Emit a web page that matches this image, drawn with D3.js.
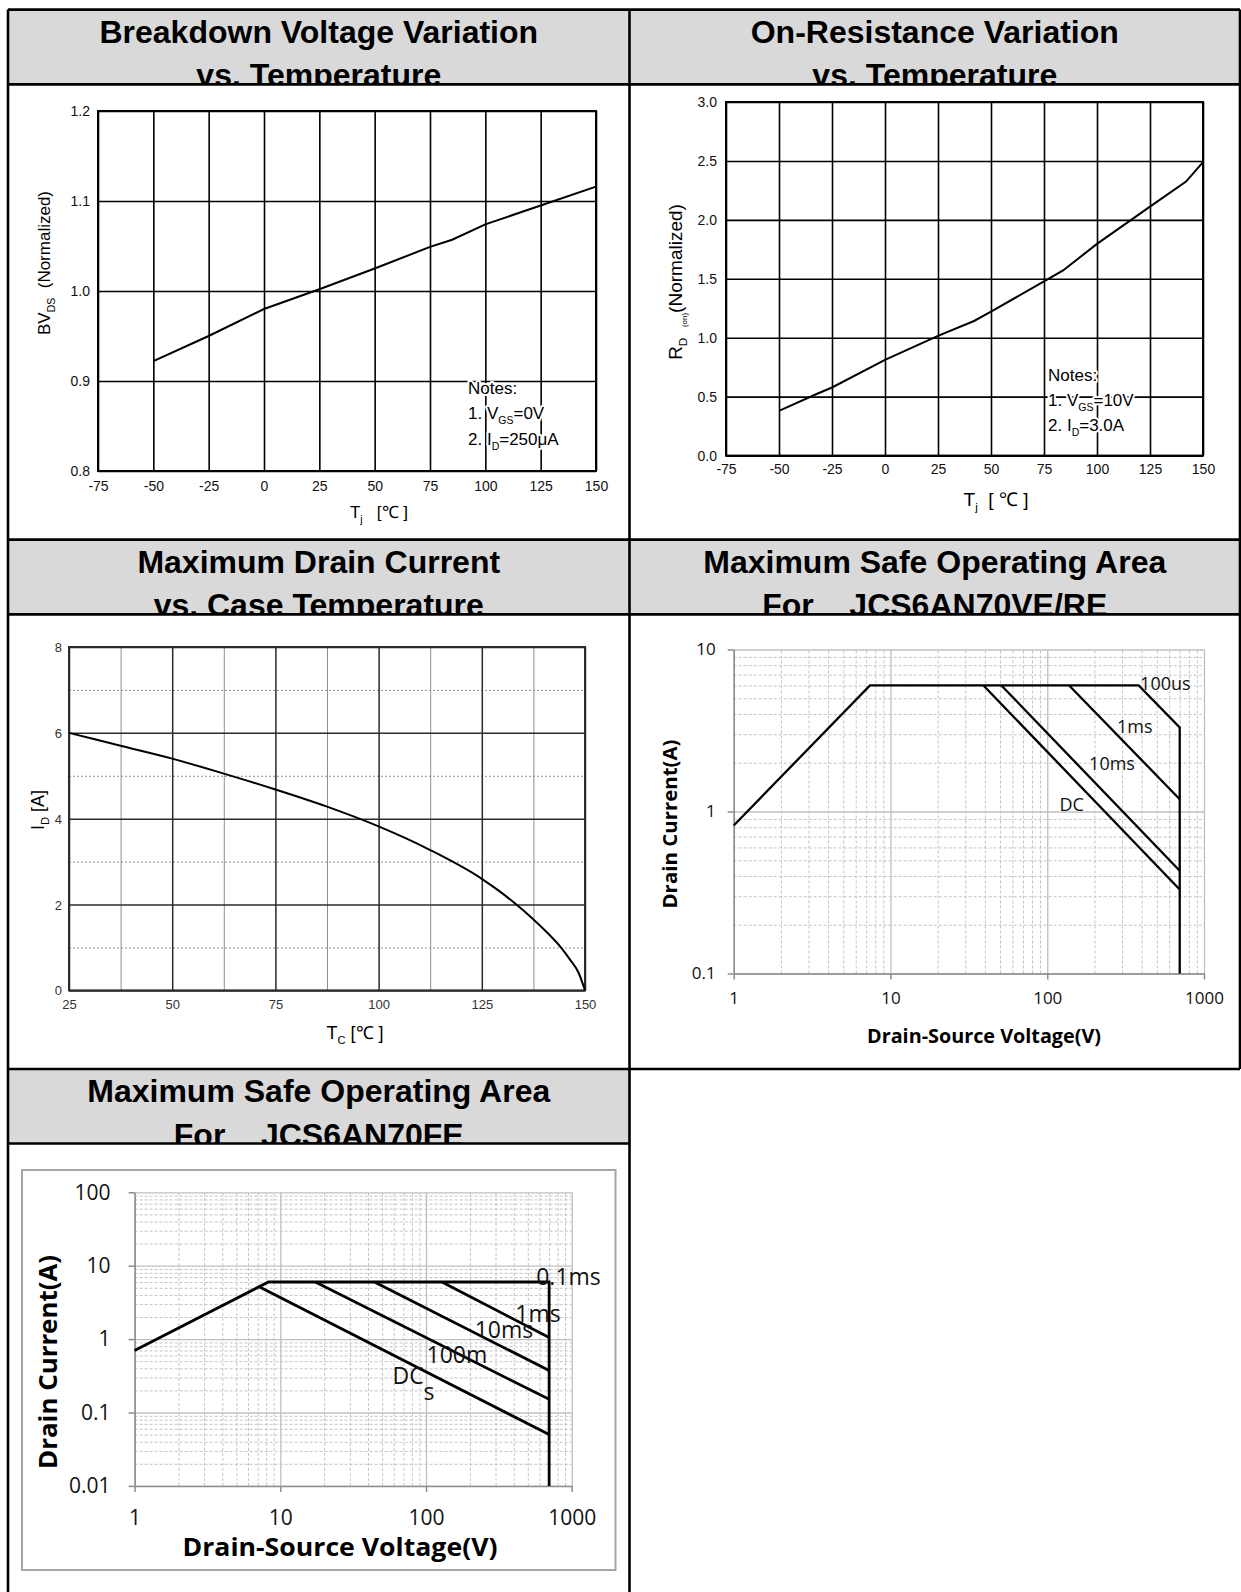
<!DOCTYPE html>
<html>
<head>
<meta charset="utf-8">
<script src="https://cdn.jsdelivr.net/npm/d3@7/dist/d3.min.js"></script>
<style>
  body { margin: 0; background: #fff; }
  svg { display: block; }
</style>
</head>
<body>
<svg id="sheet" width="1241" height="1592"></svg>
<script>
// ---- chart data ----
var tempTicks = [-75, -50, -25, 0, 25, 50, 75, 100, 125, 150];

var bvTemp = [-50, -25, 0, 25, 50, 75, 85, 100, 125, 150];
var bvNorm = [0.922, 0.950, 0.980, 1.002, 1.025, 1.049, 1.057, 1.074, 1.095, 1.116];
var bvTicks = [0.8, 0.9, 1.0, 1.1, 1.2];

var rdsTemp = [-50, -32, -25, 0, 25, 42, 50, 75, 84, 100, 125, 142, 150];
var rdsNorm = [0.38, 0.525, 0.578, 0.812, 1.016, 1.142, 1.221, 1.478, 1.571, 1.796, 2.112, 2.325, 2.49];
var rdsTicks = [0, 0.5, 1.0, 1.5, 2.0, 2.5, 3.0];

var caseTemp = [25, 37.5, 50, 62.5, 75, 87.5, 100, 112.5, 125, 129, 133, 137, 141, 144, 146.5, 148.5, 150];
var idMax = [6.0, 5.70, 5.40, 5.05, 4.68, 4.28, 3.82, 3.27, 2.60, 2.33, 2.03, 1.70, 1.33, 1.02, 0.70, 0.40, 0];
var caseTicks = [25, 50, 75, 100, 125, 150];
var caseMinor = [37.5, 62.5, 87.5, 112.5, 137.5];
var idTicks = [0, 2, 4, 6, 8];
var idMinor = [1, 3, 5, 7];

var vdsTicks = [1, 10, 100, 1000];

// SOA for JCS6AN70VE/RE
var veTicks = [0.1, 1, 10];
var veLimitV = [1, 7.4, 383, 700, 700];
var veLimitA = [0.82, 6, 6, 3.3, 0.1];
var ve1msV = [138, 700], ve1msA = [6, 1.19];
var ve10msV = [51, 700], ve10msA = [6, 0.431];
var veDcV = [39.2, 700], veDcA = [6, 0.33];
var veLabels = ['100us', '1ms', '10ms', 'DC'];
var veLabelV = [567, 362, 259, 143];
var veLabelA = [6.12, 3.33, 1.96, 1.10];

// SOA for JCS6AN70FE
var feTicks = [0.01, 0.1, 1, 10, 100];
var feLimitV = [1, 8.3, 700, 700];
var feLimitA = [0.7, 6, 6, 0.01];
var fe1msV = [128.6, 700], fe1msA = [6, 1.05];
var fe10msV = [44.3, 700], fe10msA = [6, 0.373];
var fe100msV = [17.4, 700], fe100msA = [6, 0.151];
var feDcV = [7.16, 700], feDcA = [5.18, 0.05];
var feLabels = ['0.1ms', '1ms', '10ms', '100m', 's', 'DC'];
var feLabelV = [951, 587, 343, 163, 105, 75.4];
var feLabelA = [7.02, 2.21, 1.34, 0.607, 0.188, 0.318];

var titles = [
  ['Breakdown Voltage Variation', 'vs. Temperature'],
  ['On-Resistance Variation', 'vs. Temperature'],
  ['Maximum Drain Current', 'vs. Case Temperature'],
  ['Maximum Safe Operating Area', 'For    JCS6AN70VE/RE'],
  ['Maximum Safe Operating Area', 'For    JCS6AN70FE']
];

// ---- page ----
var svg = d3.select('#sheet');
var SANS = '"Liberation Sans", Arial, sans-serif';
var CAL = '"Open Sans", "Noto Sans", sans-serif';

var cols = [8, 629.5, 1240];
var rowsY = [9.6, 84.4, 539.6, 614.4, 1069, 1143.5];
var plain = function(d) { return String(d); };

// header cells
var defs = svg.append('defs');
titles.forEach(function(lines, i) {
  var c = i % 2, r = Math.floor(i / 2);
  var x0 = cols[c], x1 = cols[c + 1];
  var top = rowsY[2 * r], bot = rowsY[2 * r + 1];
  svg.append('rect').attr('x', x0).attr('y', top)
    .attr('width', x1 - x0).attr('height', bot - top).attr('fill', '#d9d9d9');
  defs.append('clipPath').attr('id', 'hc' + i)
    .append('rect').attr('x', x0).attr('y', top).attr('width', x1 - x0).attr('height', bot - top);
  var tg = svg.append('g').attr('clip-path', 'url(#hc' + i + ')');
  lines.forEach(function(s, k) {
    tg.append('text')
      .attr('x', (x0 + x1) / 2).attr('y', top + (k === 0 ? 33.4 : 76.6))
      .attr('text-anchor', 'middle')
      .attr('font-family', SANS).attr('font-weight', 'bold').attr('font-size', 32)
      .style('white-space', 'pre')
      .text(s);
  });
});

function styleAxis(sel, size, color, family) {
  sel.attr('font-family', family).attr('font-size', size);
  sel.select('.domain').remove();
  sel.selectAll('text').attr('fill', color);
}

function richText(parent, x, y, parts, size, opts) {
  opts = opts || {};
  var t = parent.append('text').attr('x', x).attr('y', y)
    .attr('font-family', opts.family || SANS).attr('font-size', size)
    .attr('text-anchor', opts.anchor || 'middle')
    .style('white-space', 'pre');
  if (opts.rotate) t.attr('transform', 'rotate(-90,' + x + ',' + y + ')');
  if (opts.halo) {
    t.attr('stroke', '#fff').attr('stroke-width', 4).attr('paint-order', 'stroke')
      .attr('stroke-linejoin', 'round');
  }
  var shift = 0;
  parts.forEach(function(p) {
    var target = p.sub ? size * 0.28 : 0;
    t.append('tspan').attr('dy', target - shift)
      .attr('font-size', p.sub ? size * (p.scale || 0.62) : size)
      .text(p.t);
    shift = target;
  });
  return t;
}

function linearPanel(o) {
  var x = d3.scaleLinear().domain(o.xDomain).range([o.l, o.r]);
  var y = d3.scaleLinear().domain(o.yDomain).range([o.b, o.t]);
  var w = o.r - o.l, h = o.b - o.t;
  var g = svg.append('g');

  if (o.xMinor) {
    g.append('g').attr('transform', 'translate(0,' + o.b + ')')
      .call(d3.axisBottom(x).tickValues(o.xMinor).tickSize(-h).tickFormat(''))
      .call(function(a) { a.select('.domain').remove(); })
      .selectAll('line').attr('stroke', '#8f8f8f').attr('stroke-width', 1);
  }
  if (o.yMinor) {
    g.append('g').attr('transform', 'translate(' + o.l + ',0)')
      .call(d3.axisLeft(y).tickValues(o.yMinor).tickSize(-w).tickFormat(''))
      .call(function(a) { a.select('.domain').remove(); })
      .selectAll('line').attr('stroke', '#8f8f8f').attr('stroke-width', 1)
      .attr('stroke-dasharray', '2,2');
  }
  g.append('g').attr('transform', 'translate(0,' + o.b + ')')
    .call(d3.axisBottom(x).tickValues(o.xTicks).tickSize(-h).tickFormat(''))
    .call(function(a) { a.select('.domain').remove(); })
    .selectAll('line').attr('stroke', o.grid).attr('stroke-width', o.gridW);
  g.append('g').attr('transform', 'translate(' + o.l + ',0)')
    .call(d3.axisLeft(y).tickValues(o.yTicks).tickSize(-w).tickFormat(''))
    .call(function(a) { a.select('.domain').remove(); })
    .selectAll('line').attr('stroke', o.grid).attr('stroke-width', o.gridW);
  g.append('rect').attr('x', o.l).attr('y', o.t).attr('width', w).attr('height', h)
    .attr('fill', 'none').attr('stroke', o.grid).attr('stroke-width', 2);

  var xl = g.append('g').attr('transform', 'translate(0,' + o.xLabelY + ')')
    .call(d3.axisBottom(x).tickValues(o.xTicks).tickSize(0).tickPadding(0).tickFormat(o.xFmt));
  styleAxis(xl, o.tick, o.tickColor, SANS);
  xl.selectAll('text').attr('y', 0).attr('dy', '0.35em');

  var yl = g.append('g').attr('transform', 'translate(' + o.yLabelX + ',0)')
    .call(d3.axisLeft(y).tickValues(o.yTicks).tickSize(0).tickPadding(0).tickFormat(o.yFmt));
  styleAxis(yl, o.tick, o.tickColor, SANS);
  yl.selectAll('text').attr('x', 0).attr('dy', '0.35em');

  g.append('path').datum(d3.zip(o.xs, o.ys))
    .attr('d', d3.line().x(function(d) { return x(d[0]); }).y(function(d) { return y(d[1]); })
      .curve(o.curve || d3.curveLinear))
    .attr('fill', 'none').attr('stroke', '#000').attr('stroke-width', 2);
  return g;
}

// ---- Breakdown voltage ----
var g1 = linearPanel({
  l: 98, r: 596, t: 111, b: 471,
  xDomain: [-75, 150], yDomain: [0.8, 1.2],
  xTicks: tempTicks, yTicks: bvTicks,
  xFmt: plain, yFmt: d3.format('.1f'),
  grid: '#000', gridW: 1.6,
  xLabelY: 486, yLabelX: 90, tick: 14, tickColor: '#111',
  xs: bvTemp, ys: bvNorm
});
richText(g1, 50, 263, [{t: 'BV'}, {t: 'DS', sub: true}, {t: '  (Normalized)'}], 17, {rotate: true});
richText(g1, 379, 518, [{t: 'T'}, {t: 'j', sub: true}, {t: '   [\u2103 ]'}], 17);
richText(g1, 468, 394, [{t: 'Notes: '}], 17, {anchor: 'start', halo: true});
richText(g1, 468, 419, [{t: '1. V'}, {t: 'GS', sub: true}, {t: '=0V'}], 17, {anchor: 'start', halo: true});
richText(g1, 468, 445, [{t: '2. I'}, {t: 'D', sub: true}, {t: '=250\u03bcA'}], 17, {anchor: 'start', halo: true});

// ---- On-resistance ----
var g2 = linearPanel({
  l: 726, r: 1203, t: 102, b: 455.6,
  xDomain: [-75, 150], yDomain: [0, 3],
  xTicks: tempTicks, yTicks: rdsTicks,
  xFmt: plain, yFmt: d3.format('.1f'),
  grid: '#000', gridW: 1.6,
  xLabelY: 469, yLabelX: 717, tick: 14, tickColor: '#111',
  xs: rdsTemp, ys: rdsNorm
});
richText(g2, 682, 282, [{t: 'R'}, {t: 'D', sub: true}, {t: '  '}, {t: '(on)', sub: true, scale: 0.42}, {t: '(Normalized)'}], 19, {rotate: true});
richText(g2, 996, 506, [{t: 'T'}, {t: 'j', sub: true}, {t: '  [ \u2103 ]'}], 19);
richText(g2, 1048, 381, [{t: 'Notes:'}], 17, {anchor: 'start', halo: true});
richText(g2, 1048, 406, [{t: '1. V'}, {t: 'GS', sub: true}, {t: '=10V'}], 17, {anchor: 'start', halo: true});
richText(g2, 1048, 431, [{t: '2. I'}, {t: 'D', sub: true}, {t: '=3.0A'}], 17, {anchor: 'start', halo: true});

// ---- Drain current vs case temperature ----
var g3 = linearPanel({
  l: 69, r: 585, t: 647, b: 990.4,
  xDomain: [25, 150], yDomain: [0, 8],
  xTicks: caseTicks, yTicks: idTicks, xMinor: caseMinor, yMinor: idMinor,
  xFmt: plain, yFmt: plain,
  grid: '#2b2b2b', gridW: 1.5,
  xLabelY: 1004.5, yLabelX: 62, tick: 13, tickColor: '#333',
  xs: caseTemp, ys: idMax, curve: d3.curveMonotoneX
});
richText(g3, 44, 810, [{t: 'I'}, {t: 'D', sub: true}, {t: ' [A]'}], 18, {rotate: true});
richText(g3, 355, 1039, [{t: 'T'}, {t: 'C', sub: true}, {t: ' [\u2103 ]'}], 18);

// ---- SOA panels ----
function soaPanel(o) {
  var x = d3.scaleLog().domain([vdsTicks[0], vdsTicks[vdsTicks.length - 1]]).range([o.l, o.r]);
  var y = d3.scaleLog().domain([o.yTicks[0], o.yTicks[o.yTicks.length - 1]]).range([o.b, o.t]);
  var w = o.r - o.l, h = o.b - o.t;
  var g = svg.append('g');
  var isMajor = function(v) { return Math.abs(Math.log10(v) - Math.round(Math.log10(v))) < 1e-6; };
  var xMinor = x.ticks().filter(function(v) { return !isMajor(v); });
  var yMinor = y.ticks().filter(function(v) { return !isMajor(v); });

  g.append('g').attr('transform', 'translate(0,' + o.b + ')')
    .call(d3.axisBottom(x).tickValues(xMinor).tickSize(-h).tickFormat(''))
    .call(function(a) { a.select('.domain').remove(); })
    .selectAll('line').attr('stroke', '#c4c4c4').attr('stroke-dasharray', '3,2');
  g.append('g').attr('transform', 'translate(' + o.l + ',0)')
    .call(d3.axisLeft(y).tickValues(yMinor).tickSize(-w).tickFormat(''))
    .call(function(a) { a.select('.domain').remove(); })
    .selectAll('line').attr('stroke', '#c4c4c4').attr('stroke-dasharray', '3,2');
  g.append('g').attr('transform', 'translate(0,' + o.b + ')')
    .call(d3.axisBottom(x).tickValues(vdsTicks).tickSize(-h).tickFormat(''))
    .call(function(a) { a.select('.domain').remove(); })
    .selectAll('line').attr('stroke', '#c0c0c0').attr('stroke-width', 1.3);
  g.append('g').attr('transform', 'translate(' + o.l + ',0)')
    .call(d3.axisLeft(y).tickValues(o.yTicks).tickSize(-w).tickFormat(''))
    .call(function(a) { a.select('.domain').remove(); })
    .selectAll('line').attr('stroke', '#c0c0c0').attr('stroke-width', 1.3);

  // axis lines with outward ticks
  var xa = g.append('g').attr('transform', 'translate(0,' + o.b + ')')
    .call(d3.axisBottom(x).tickValues(vdsTicks).tickSizeInner(6).tickSizeOuter(0)
      .tickPadding(o.xPad).tickFormat(d3.format('~g')));
  xa.attr('font-family', CAL).attr('font-size', o.tick);
  xa.selectAll('line, .domain').attr('stroke', '#8c8c8c').attr('stroke-width', 1.5);
  xa.selectAll('text').attr('fill', '#111');
  var ya = g.append('g').attr('transform', 'translate(' + o.l + ',0)')
    .call(d3.axisLeft(y).tickValues(o.yTicks).tickSizeInner(6).tickSizeOuter(0)
      .tickPadding(o.yPad).tickFormat(d3.format('~g')));
  ya.attr('font-family', CAL).attr('font-size', o.tick);
  ya.selectAll('line, .domain').attr('stroke', '#8c8c8c').attr('stroke-width', 1.5);
  ya.selectAll('text').attr('fill', '#111');

  var line = d3.line().x(function(d) { return x(d[0]); }).y(function(d) { return y(d[1]); });
  o.series.forEach(function(s) {
    g.append('path').datum(d3.zip(s[0], s[1])).attr('d', line)
      .attr('fill', 'none').attr('stroke', '#000').attr('stroke-width', o.lineW)
      .attr('stroke-linejoin', 'miter');
  });
  o.labels.forEach(function(t, i) {
    g.append('text').attr('x', x(o.labelV[i])).attr('y', y(o.labelA[i]))
      .attr('dy', '0.35em').attr('text-anchor', 'middle')
      .attr('font-family', CAL).attr('font-size', o.labelSize).attr('fill', '#111')
      .text(t);
  });
  return g;
}

var g4 = soaPanel({
  l: 733.7, r: 1204, t: 649.5, b: 973.5,
  yTicks: veTicks, tick: 17, xPad: 12, yPad: 12, lineW: 2.3,
  series: [[veLimitV, veLimitA], [ve1msV, ve1msA], [ve10msV, ve10msA], [veDcV, veDcA]],
  labels: veLabels, labelV: veLabelV, labelA: veLabelA, labelSize: 18
});
g4.append('text').attr('x', 0).attr('y', 0)
  .attr('transform', 'translate(677,824) rotate(-90)')
  .attr('text-anchor', 'middle').attr('font-family', CAL).attr('font-weight', 'bold')
  .attr('font-size', 19).attr('textLength', 169).attr('lengthAdjust', 'spacingAndGlyphs')
  .text('Drain Current(A)');
g4.append('text').attr('x', 984).attr('y', 1043)
  .attr('text-anchor', 'middle').attr('font-family', CAL).attr('font-weight', 'bold')
  .attr('font-size', 19).attr('textLength', 234).attr('lengthAdjust', 'spacingAndGlyphs')
  .text('Drain-Source Voltage(V)');

// FE chart frame
svg.append('rect').attr('x', 22).attr('y', 1170).attr('width', 593.5).attr('height', 400)
  .attr('fill', '#fff').attr('stroke', '#a6a6a6').attr('stroke-width', 2);
var g5 = soaPanel({
  l: 134.6, r: 571.7, t: 1192.3, b: 1485.9,
  yTicks: feTicks, tick: 21, xPad: 18, yPad: 18, lineW: 2.8,
  series: [[feLimitV, feLimitA], [fe1msV, fe1msA], [fe10msV, fe10msA], [fe100msV, fe100msA], [feDcV, feDcA]],
  labels: feLabels, labelV: feLabelV, labelA: feLabelA, labelSize: 23
});
g5.append('text').attr('x', 0).attr('y', 0)
  .attr('transform', 'translate(57,1362) rotate(-90)')
  .attr('text-anchor', 'middle').attr('font-family', CAL).attr('font-weight', 'bold')
  .attr('font-size', 25).attr('textLength', 214).attr('lengthAdjust', 'spacingAndGlyphs')
  .text('Drain Current(A)');
g5.append('text').attr('x', 340).attr('y', 1556)
  .attr('text-anchor', 'middle').attr('font-family', CAL).attr('font-weight', 'bold')
  .attr('font-size', 25).attr('textLength', 315).attr('lengthAdjust', 'spacingAndGlyphs')
  .text('Drain-Source Voltage(V)');

// ---- table rules ----
var rules = svg.append('g').attr('stroke', '#000').attr('stroke-width', 2.6);
[[cols[0], cols[2], rowsY[0]], [cols[0], cols[2], rowsY[1]], [cols[0], cols[2], rowsY[2]],
 [cols[0], cols[2], rowsY[3]], [cols[0], cols[2], rowsY[4]], [cols[0], cols[1], rowsY[5]]]
  .forEach(function(r) {
    rules.append('line').attr('x1', r[0]).attr('x2', r[1]).attr('y1', r[2]).attr('y2', r[2]);
  });
[[cols[0], rowsY[0], 1592], [cols[1], rowsY[0], 1592], [cols[2], rowsY[0], rowsY[4]]]
  .forEach(function(v) {
    rules.append('line').attr('x1', v[0]).attr('x2', v[0]).attr('y1', v[1]).attr('y2', v[2]);
  });
</script>
</body>
</html>
